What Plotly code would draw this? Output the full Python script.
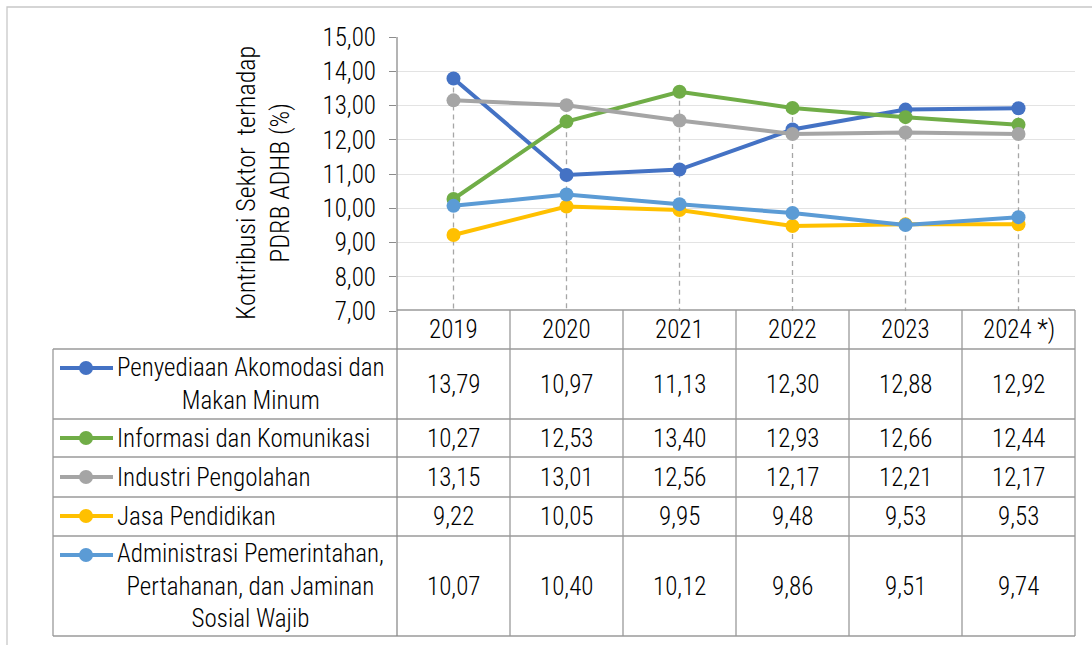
import plotly.graph_objects as go

years = ["2019", "2020", "2021", "2022", "2023", "2024 *)"]
series_names = [
    "Penyediaan Akomodasi dan<br>Makan Minum",
    "Informasi dan Komunikasi",
    "Industri Pengolahan",
    "Jasa Pendidikan",
    "Administrasi Pemerintahan,<br>Pertahanan, dan Jaminan<br>Sosial Wajib",
]
akomodasi = [13.79, 10.97, 11.13, 12.30, 12.88, 12.92]
infokom = [10.27, 12.53, 13.40, 12.93, 12.66, 12.44]
industri = [13.15, 13.01, 12.56, 12.17, 12.21, 12.17]
pendidikan = [9.22, 10.05, 9.95, 9.48, 9.53, 9.53]
administrasi = [10.07, 10.40, 10.12, 9.86, 9.51, 9.74]
series_values = [akomodasi, infokom, industri, pendidikan, administrasi]
colors = ["#4472C4", "#70AD47", "#A5A5A5", "#FFC000", "#5B9BD5"]

W, H = 1092, 645
FONT = "Roboto Condensed, DejaVu Sans Condensed, sans-serif"
TXT = "#000000"
WEIGHT = 300
FS = 25


def px(x):
    return x / W


def py(y):
    return 1 - y / H


def font(size=FS):
    return dict(family=FONT, size=size, color=TXT, weight=WEIGHT)


fig = go.Figure()

ymin = 7
drop_x, drop_y = [], []
for i, yr in enumerate(years):
    top = max(s[i] for s in series_values)
    drop_x += [yr, yr, None]
    drop_y += [top, ymin, None]
fig.add_trace(go.Scatter(x=drop_x, y=drop_y, mode="lines",
                         line=dict(color="#A6A6A6", width=1.3, dash="5px,4px"),
                         hoverinfo="skip", showlegend=False))

for name, vals, c in zip(series_names, series_values, colors):
    fig.add_trace(go.Scatter(x=years, y=vals, mode="lines+markers", name=name,
                             line=dict(color=c, width=4),
                             marker=dict(color=c, size=14),
                             showlegend=False))

x_left, x_axis, x_right = 53, 397, 1075
col_w = (x_right - x_axis) / len(years)
y_head_top, y_head_bot = 310, 349
row_bounds = [349, 419, 457, 497, 536, 636]

shapes = []
line_style = dict(color="#9A9A9A", width=1.3)
shapes.append(dict(type="rect", xref="paper", yref="paper", x0=px(7), y0=py(7), x1=px(1100), y1=py(660),
                   line=dict(color="#C8C8C8", width=1.3)))
shapes.append(dict(type="line", xref="paper", yref="paper", x0=px(x_axis), x1=px(x_right),
                   y0=py(y_head_top), y1=py(y_head_top), line=line_style))
for yb in row_bounds:
    shapes.append(dict(type="line", xref="paper", yref="paper", x0=px(x_left), x1=px(x_right),
                       y0=py(yb), y1=py(yb), line=line_style))
shapes.append(dict(type="line", xref="paper", yref="paper", x0=px(x_left), x1=px(x_left),
                   y0=py(row_bounds[0]), y1=py(row_bounds[-1]), line=line_style))
shapes.append(dict(type="line", xref="paper", yref="paper", x0=px(x_axis), x1=px(x_axis),
                   y0=py(37), y1=py(row_bounds[-1]), line=dict(color="#8C8C8C", width=1.3)))
for k in range(1, len(years) + 1):
    xx = x_axis + k * col_w
    shapes.append(dict(type="line", xref="paper", yref="paper", x0=px(xx), x1=px(xx),
                       y0=py(y_head_top), y1=py(row_bounds[-1]), line=line_style))

annotations = []
for i, yr in enumerate(years):
    annotations.append(dict(x=i, xref="x", y=py((y_head_top + y_head_bot) / 2), yref="paper",
                            text=yr, showarrow=False, font=font(),
                            xanchor="center", yanchor="middle"))

key_y = [368, 438, 477, 516, 555]
for r, (name, vals, c) in enumerate(zip(series_names, series_values, colors)):
    yc = (row_bounds[r] + row_bounds[r + 1]) / 2
    for i, v in enumerate(vals):
        annotations.append(dict(x=i, xref="x", y=py(yc), yref="paper",
                                text=f"{v:.2f}".replace(".", ","), showarrow=False,
                                font=font(), xanchor="center", yanchor="middle"))
    annotations.append(dict(x=px(115), xref="paper", y=py(yc), yref="paper", text=name,
                            showarrow=False, align="center", font=font(),
                            xanchor="left", yanchor="middle"))
    ky = key_y[r]
    shapes.append(dict(type="line", xref="paper", yref="paper", x0=px(60), x1=px(113),
                       y0=py(ky), y1=py(ky), line=dict(color=c, width=4)))
    shapes.append(dict(type="circle", xref="paper", yref="paper", x0=px(86 - 7), x1=px(86 + 7),
                       y0=py(ky - 7), y1=py(ky + 7), fillcolor=c, line=dict(color=c, width=0)))

annotations.append(dict(x=px(263), xref="paper", y=py(183), yref="paper",
                        text="Kontribusi Sektor\u00a0 terhadap<br>PDRB ADHB (%)", textangle=-90,
                        showarrow=False, align="center", font=font(26),
                        xanchor="center", yanchor="middle"))

fig.update_layout(
    width=W, height=H,
    margin=dict(l=0, r=0, t=0, b=0, autoexpand=False),
    paper_bgcolor="white", plot_bgcolor="white",
    separators=", ",
    xaxis=dict(domain=[px(x_axis), px(x_right)], type="category", range=[-0.5, 5.5],
               showticklabels=False, showgrid=False, zeroline=False, showline=False, ticks="",
               automargin=False),
    yaxis=dict(domain=[py(311), py(37)], range=[7, 15], dtick=1, tickformat=".2f",
               showgrid=True, gridcolor="#E3E3E3", gridwidth=1.3, zeroline=False,
               showline=False, ticks="outside", ticklen=7, tickcolor="#8C8C8C", tickwidth=1.3,
               ticklabelstandoff=8, automargin=False,
               tickfont=font()),
    shapes=shapes,
    annotations=annotations,
)

fig.write_html("out.html", config={"displayModeBar": False},
               post_script="document.body.style.margin='0';")
